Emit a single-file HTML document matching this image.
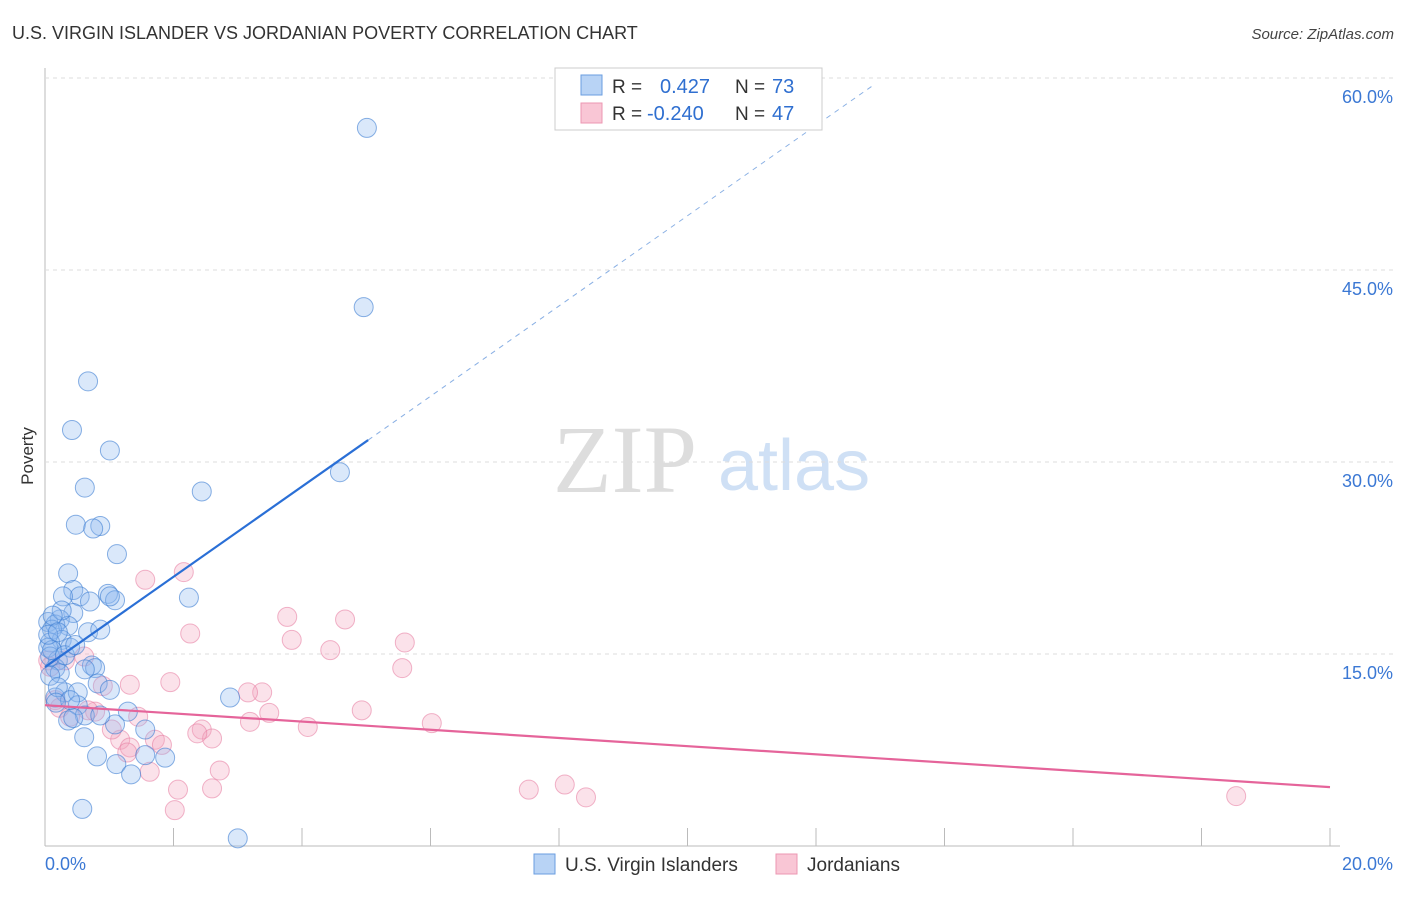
<!DOCTYPE html>
<html><head><meta charset="utf-8"><style>
body{margin:0;background:#fff;font-family:"Liberation Sans",sans-serif;}
svg text{font-family:"Liberation Sans",sans-serif;}
</style></head><body>
<svg id="chart" width="1406" height="892" xmlns="http://www.w3.org/2000/svg">
<text x="12" y="39" font-size="18" fill="#333">U.S. VIRGIN ISLANDER VS JORDANIAN POVERTY CORRELATION CHART</text>
<text x="1394" y="39" font-size="15" fill="#444" text-anchor="end" font-style="italic">Source: ZipAtlas.com</text>
<text transform="translate(33,456) rotate(-90)" font-size="17" fill="#333" text-anchor="middle">Poverty</text>
<g><text x="553" y="492" font-size="96" fill="#ddd" style="font-family:'Liberation Serif',serif">ZIP</text><text x="718" y="490" font-size="72" fill="#cfe0f5">atlas</text></g>
<g id="grid"></g><g id="pts"></g><g id="lines"></g>
<g>
<rect x="555" y="68" width="267" height="62" fill="#fff" stroke="#ccc"/>
<rect x="581" y="75" width="21" height="20" fill="#b8d3f5" stroke="#6a9ee0"/>
<rect x="581" y="103" width="21" height="20" fill="#f9c6d5" stroke="#ec97b2"/>
<text x="612" y="93" font-size="19" fill="#333">R =</text><text x="660" y="93" font-size="20" fill="#2f6fd0">0.427</text>
<text x="735" y="93" font-size="19" fill="#333">N =</text><text x="772" y="93" font-size="20" fill="#2f6fd0">73</text>
<text x="612" y="120" font-size="19" fill="#333">R =</text><text x="647" y="120" font-size="20" fill="#2f6fd0">-0.240</text>
<text x="735" y="120" font-size="19" fill="#333">N =</text><text x="772" y="120" font-size="20" fill="#2f6fd0">47</text>
</g>
<g>
<rect x="534" y="854" width="21" height="20" fill="#b8d3f5" stroke="#6a9ee0"/><text x="565" y="871" font-size="19" fill="#333">U.S. Virgin Islanders</text>
<rect x="776" y="854" width="21" height="20" fill="#f9c6d5" stroke="#ec97b2"/><text x="807" y="871" font-size="19" fill="#333">Jordanians</text>
</g>
</svg>
<script>
const yTicks=[15,30,45,60];
const yTickLabels=["15.0%","30.0%","45.0%","60.0%"];
const xTickLabels=["0.0%","20.0%"];
const blueX=[5.01,4.96,0.67,0.42,1.01,4.59,0.62,2.44,0.48,0.86,0.75,1.12,0.36,2.24,0.44,0.98,1.09,0.54,0.28,0.70,0.44,0.23,0.05,0.16,0.36,0.11,0.67,0.86,0.26,0.08,0.05,0.39,0.20,0.16,0.73,0.78,0.62,0.23,0.08,0.82,1.01,0.31,0.51,0.16,2.88,0.51,0.62,1.29,0.36,0.44,1.09,1.56,0.61,0.81,1.56,1.87,1.11,1.34,0.58,3.00,0.08,0.11,0.26,1.01,0.12,0.20,0.39,0.86,0.31,0.47,0.05,0.20,0.17];
const blueY=[56.1,42.1,36.3,32.5,30.9,29.2,28.0,27.7,25.1,25.0,24.8,22.8,21.3,19.4,20.0,19.7,19.2,19.5,19.5,19.1,18.2,17.7,17.5,17.3,17.2,16.9,16.7,16.9,16.1,15.9,15.5,15.5,14.5,13.9,14.1,13.9,13.8,13.5,13.3,12.7,12.2,12.0,12.0,11.6,11.6,11.0,10.2,10.5,9.8,10.0,9.5,9.1,8.5,7.0,7.1,6.9,6.4,5.6,2.9,0.6,14.8,15.3,18.4,19.5,18.0,12.4,11.4,10.2,14.9,15.7,16.5,16.7,11.2];
const pinkX=[1.56,2.16,2.26,3.77,4.67,3.84,4.44,5.60,5.56,1.95,3.38,3.16,3.49,3.19,4.09,4.93,6.02,0.61,1.32,0.90,0.16,0.23,0.78,0.39,1.45,2.44,2.60,2.37,1.17,1.04,1.32,1.71,1.82,1.28,1.63,2.72,2.07,2.60,2.02,7.53,8.09,8.42,18.54,0.05,0.08,0.31,0.67];
const pinkY=[20.8,21.4,16.6,17.9,17.7,16.1,15.3,15.9,13.9,12.8,12.0,12.0,10.4,9.7,9.3,10.6,9.6,14.8,12.6,12.5,11.4,10.8,10.5,10.1,10.1,9.1,8.4,8.8,8.3,9.1,7.7,8.3,7.9,7.3,5.8,5.9,4.4,4.5,2.8,4.4,4.8,3.8,3.9,14.5,14.0,14.5,10.6];
const blueTrend=[13.98,84.5];
const pinkTrend=[11.0,4.6];
const NS="http://www.w3.org/2000/svg";
const X0=45,X1=1330,Y0=846,PPY=192/15;
const sx=v=>X0+(v/20)*(X1-X0);
const sy=v=>Y0-v*PPY;
function mk(t,a,p){const e=document.createElementNS(NS,t);for(const k in a)e.setAttribute(k,a[k]);p.appendChild(e);return e;}
const grid=document.getElementById('grid');
let ax=mk('line',{x1:X0,y1:68,x2:X0,y2:846,stroke:'#bbb'},grid);

let bx=mk('line',{x1:X0,y1:846,x2:1340,y2:846,stroke:'#bbb'},grid);

yTicks.forEach((v,i)=>{
 const g=mk('line',{x1:X0,y1:sy(v),x2:1394,y2:sy(v),stroke:'#ddd','stroke-dasharray':'4,4'},grid);
 
 const t=mk('text',{x:1393,y:sy(v)+25,'font-size':18,fill:'#3b78d4','text-anchor':'end'},grid);
 t.textContent=yTickLabels[i];
 
});
for(let i=1;i<=10;i++){
 const x=sx(i*2);
 const tk=mk('line',{x1:x,y1:828,x2:x,y2:846,stroke:'#bbb'},grid);
 
}
[[0,'start',45],[20,'end',1393]].forEach((d,i)=>{
 const t=mk('text',{x:d[2],y:870,'font-size':18,fill:'#3b78d4','text-anchor':d[1]},grid);
 t.textContent=xTickLabels[i];
 
});
const pts=document.getElementById('pts');
pinkX.forEach((x,i)=>{const c=mk('circle',{cx:sx(x),cy:sy(pinkY[i]),r:9.5,fill:'rgba(244,165,190,0.32)',stroke:'rgba(232,130,165,0.6)','stroke-width':1},pts);
 });
blueX.forEach((x,i)=>{const c=mk('circle',{cx:sx(x),cy:sy(blueY[i]),r:9.5,fill:'rgba(140,185,238,0.32)',stroke:'rgba(60,125,210,0.6)','stroke-width':1},pts);
 });
const L=document.getElementById('lines');
const bv=x=>blueTrend[0]+(blueTrend[1]-blueTrend[0])*x/20;
let l1=mk('line',{x1:sx(0),y1:sy(bv(0)),x2:sx(5.03),y2:sy(bv(5.03)),stroke:'#2a6fd6','stroke-width':2.2},L);

let l2=mk('line',{x1:sx(5.03),y1:sy(bv(5.03)),x2:sx(12.92),y2:sy(bv(12.92)),stroke:'#8ab0e4','stroke-width':1,'stroke-dasharray':'5,5'},L);

let l3=mk('line',{x1:sx(0),y1:sy(pinkTrend[0]),x2:sx(20),y2:sy(pinkTrend[1]),stroke:'#e5649a','stroke-width':2.2},L);

</script>
</body></html>
